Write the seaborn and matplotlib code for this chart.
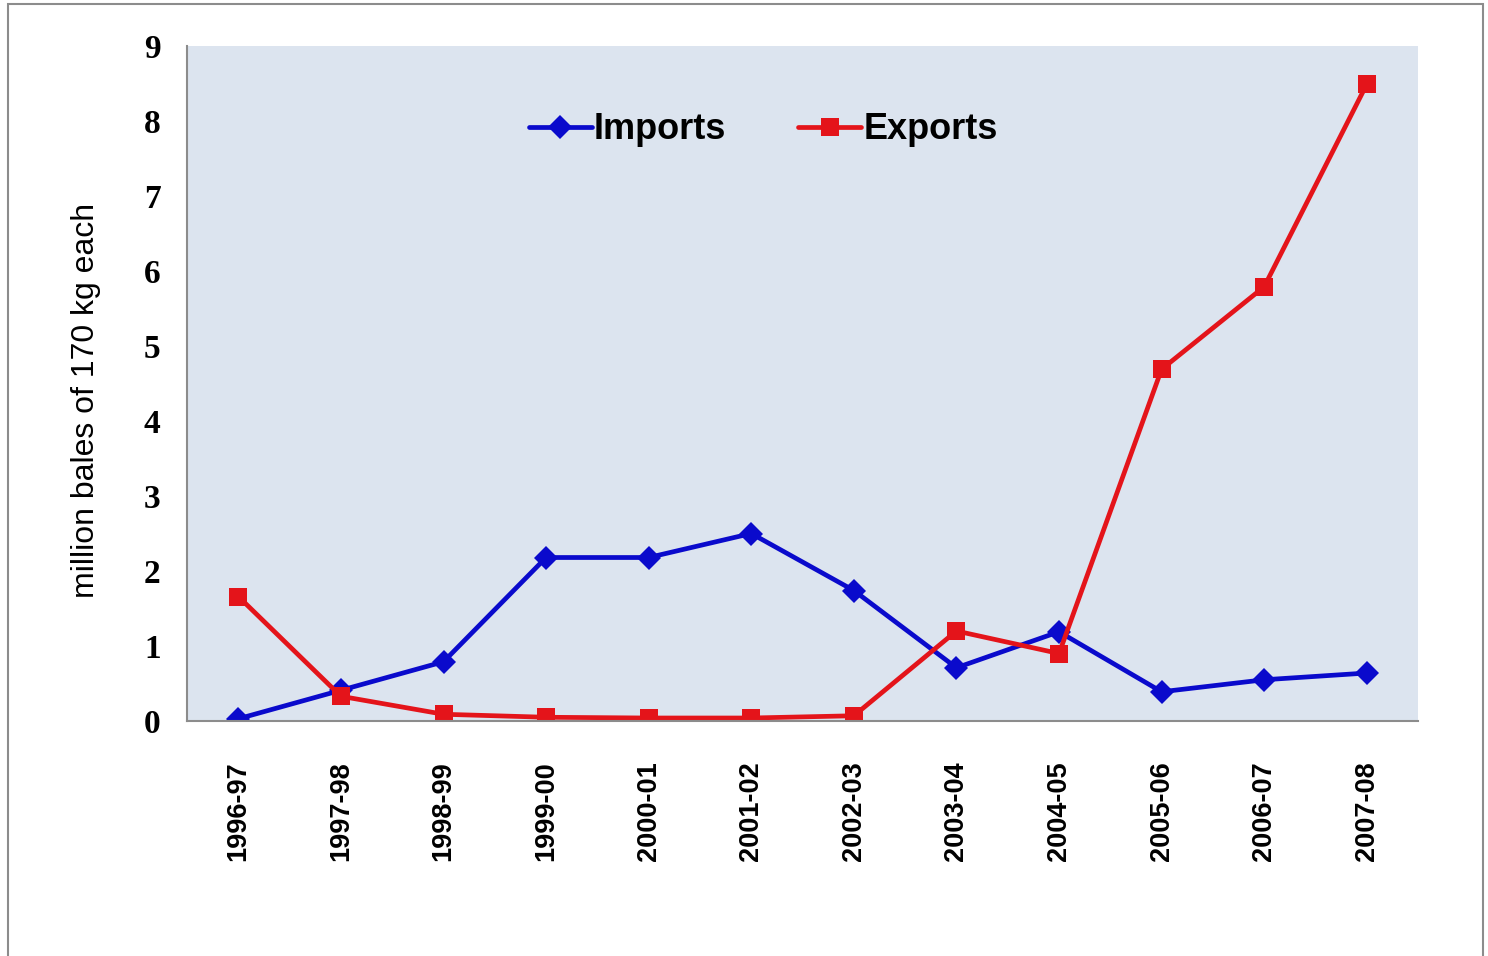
import matplotlib
matplotlib.use("Agg")
import matplotlib.pyplot as plt
import seaborn as sns
import pandas as pd
from matplotlib.patches import Rectangle

seasons = ["1996-97", "1997-98", "1998-99", "1999-00", "2000-01", "2001-02",
           "2002-03", "2003-04", "2004-05", "2005-06", "2006-07", "2007-08"]
imports = [0.03, 0.41, 0.79, 2.18, 2.18, 2.50, 1.74, 0.71, 1.19, 0.39, 0.55, 0.64]
exports = [1.66, 0.33, 0.09, 0.05, 0.04, 0.04, 0.07, 1.20, 0.90, 4.69, 5.79, 8.49]

df = pd.DataFrame({
    "season": seasons * 2,
    "value": imports + exports,
    "series": ["Imports"] * len(seasons) + ["Exports"] * len(seasons),
})

sns.set_style("white")
plt.rcParams["font.family"] = ["Liberation Sans", "DejaVu Sans"]
plt.rcParams["text.color"] = "black"
plt.rcParams["axes.labelcolor"] = "black"
plt.rcParams["xtick.color"] = "black"
plt.rcParams["ytick.color"] = "black"

fig = plt.figure(figsize=(14.88, 9.56), dpi=100)
ax = fig.add_axes([0.1257, 0.2458, 0.953 - 0.1257, 0.9519 - 0.2458])
ax.set_facecolor("#DCE4EF")

palette = {"Imports": "#0A0ACC", "Exports": "#E4141A"}
sns.lineplot(data=df, x="season", y="value", hue="series", style="series",
             markers={"Imports": "D", "Exports": "s"}, dashes=False,
             palette=palette, linewidth=3.4, markersize=12.5,
             markeredgewidth=0, ax=ax, sort=False)

ax.set_xlim(-0.5, len(seasons) - 0.5)
ax.set_ylim(0, 9)
ax.set_yticks(range(0, 10))
ax.set_yticklabels([str(v) for v in range(0, 10)],
                   fontfamily="Liberation Serif", fontweight="bold", fontsize=24)
ax.set_xticks(range(len(seasons)))
ax.set_xticklabels(seasons, rotation=90, fontweight="bold", fontsize=19.5)
ax.tick_params(axis="y", length=0, pad=19)
ax.tick_params(axis="x", length=0, pad=29)

ax.set_xlabel("")
ax.set_ylabel("million bales of 170 kg each", fontsize=23)
ax.yaxis.set_label_coords(-0.070, 0.475)

for side in ("top", "right"):
    ax.spines[side].set_visible(False)
for side in ("left", "bottom"):
    ax.spines[side].set_color("#8C8C8C")
    ax.spines[side].set_linewidth(1.5)

leg = ax.legend(loc="upper center", bbox_to_anchor=(0.468, 0.95), ncol=2,
                frameon=False, handlelength=1.75, handletextpad=0.05,
                columnspacing=2.0, prop={"weight": "bold", "size": 26})

fig.add_artist(Rectangle((8 / 1488, -0.01), (1483 - 8) / 1488, 1 - 4 / 956 + 0.01,
                         transform=fig.transFigure, fill=False,
                         edgecolor="#8C8C8C", linewidth=1.5))

fig.savefig("out.png", dpi=100)
